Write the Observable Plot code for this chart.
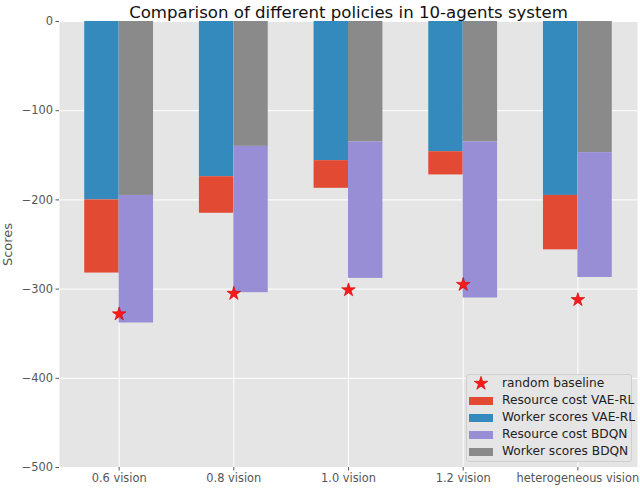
<!DOCTYPE html>
<html>
<head>
<meta charset="utf-8">
<script src="https://cdn.jsdelivr.net/npm/d3@7"></script>
<script src="https://cdn.jsdelivr.net/npm/@observablehq/plot@0.6"></script>
<style>
  html, body { margin: 0; padding: 0; background: white; }
  #wrap { position: relative; width: 640px; height: 489px; font-family: "DejaVu Sans", sans-serif; }
  #legend { position: absolute; left: 466px; top: 374px; width: 166px; height: 88px; box-sizing: border-box;
    background: #E5E5E5; border: 1px solid #cfcfcf; border-radius: 3px; }
  .li { position: absolute; left: 0; height: 17px; width: 166px; font-size: 12.2px; color: #222; }
  .sw { position: absolute; left: 2px; top: 5px; width: 24px; height: 8px; }
  .lt { position: absolute; left: 35px; top: 1px; line-height: 15px; white-space: nowrap; }
</style>
</head>
<body>
<div id="wrap"></div>
<script>
const categories = ["0.6 vision", "0.8 vision", "1.0 vision", "1.2 vision", "heterogeneous vision"];
const vaeWorker    = [-200, -174, -156, -146, -195];
const vaeResource  = [-82, -41, -31, -26, -61];
const bdqnWorker   = [-195, -140, -135, -135, -147];
const bdqnResource = [-143, -164, -153, -175, -140];
const baseline     = [-328, -305, -301, -295, -312];
const yTicks = [0, -100, -200, -300, -400, -500];
const seriesNames = ["random baseline", "Resource cost VAE-RL", "Worker scores VAE-RL", "Resource cost BDQN", "Worker scores BDQN"];
const colors = {
  "Resource cost VAE-RL": "#E24A33",
  "Worker scores VAE-RL": "#348ABD",
  "Resource cost BDQN": "#988ED5",
  "Worker scores BDQN": "#8A8A8A"
};
const title = "Comparison of different policies in 10-agents system";
const yLabel = "Scores";
const barWidth = 0.3;

const idx = categories.map((_, i) => i);
const rows = [];
idx.forEach(i => {
  rows.push({i, side: -1, series: "Worker scores VAE-RL", y1: 0, y2: vaeWorker[i]});
  rows.push({i, side: -1, series: "Resource cost VAE-RL", y1: vaeWorker[i], y2: vaeWorker[i] + vaeResource[i]});
  rows.push({i, side: 1, series: "Worker scores BDQN", y1: 0, y2: bdqnWorker[i]});
  rows.push({i, side: 1, series: "Resource cost BDQN", y1: bdqnWorker[i], y2: bdqnWorker[i] + bdqnResource[i]});
});
const pts = idx.map(i => ({i, v: baseline[i]}));

const chart = Plot.plot({
  width: 640, height: 489,
  marginLeft: 59, marginRight: 3, marginTop: 21, marginBottom: 22,
  style: {fontFamily: "DejaVu Sans", fontSize: "11.4px", color: "#555555", background: "transparent"},
  x: {type: "linear", domain: [-0.52, 4.52]},
  y: {domain: [-500, 0]},
  marks: [
    Plot.frame({fill: "#E5E5E5", stroke: null}),
    Plot.gridY(yTicks, {stroke: "white", strokeOpacity: 1, strokeWidth: 1}),
    Plot.gridX(idx, {stroke: "white", strokeOpacity: 1, strokeWidth: 1}),
    Plot.rect(rows, {
      x1: d => d.side < 0 ? d.i - barWidth : d.i,
      x2: d => d.side < 0 ? d.i : d.i + barWidth,
      y1: "y1", y2: "y2",
      fill: d => colors[d.series]
    }),
    Plot.dot(pts, {x: "i", y: "v", symbol: "star", r: 4.3, fill: "#ff1a1a", stroke: "#cc0000", strokeWidth: 0.6}),
    Plot.axisY(yTicks, {tickSize: 3.5, tickPadding: 3, label: null, stroke: "#555555"}),
    Plot.axisX(idx, {tickSize: 3.5, tickPadding: 3, label: null, tickFormat: i => categories[i], stroke: "#555555"}),
    Plot.text([yLabel], {frameAnchor: "left", dx: -51.5, rotate: -90, textAnchor: "middle", fontSize: 13, fill: "#555555"}),
    Plot.text([title], {frameAnchor: "top", dy: -15.5, fontSize: 16.6, fill: "#111111"})
  ]
});
const wrap = document.getElementById("wrap");
wrap.appendChild(chart);

// legend
const legend = document.createElement("div");
legend.id = "legend";
seriesNames.forEach((name, k) => {
  const li = document.createElement("div");
  li.className = "li";
  li.style.top = (k * 17) + "px";
  let sw;
  if (k === 0) {
    const starPath = d3.symbol(d3.symbolStar, Math.PI * 4.3 * 4.3)();
    sw = `<svg style="position:absolute;left:2px;top:0px" width="24" height="17"><path d="${starPath}" transform="translate(12,8.5)" fill="#ff1a1a" stroke="#cc0000" stroke-width="0.6"/></svg>`;
  } else {
    sw = `<div class="sw" style="background:${colors[name]}"></div>`;
  }
  li.innerHTML = sw + `<span class="lt">${name}</span>`;
  legend.appendChild(li);
});
wrap.appendChild(legend);
</script>
</body>
</html>
